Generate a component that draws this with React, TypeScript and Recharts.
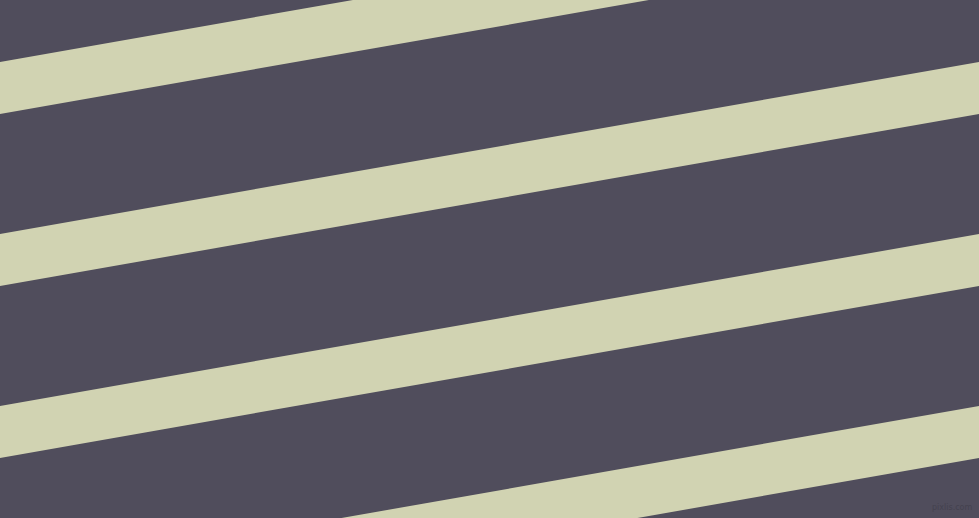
import React from 'react';
import { ComposedChart, Area, XAxis, YAxis } from 'recharts';

// x positions of the two ends of every band
const xEnds = [0, 979];
// band edges (value = distance from the bottom), left end then right end
const stripeLow = [
  [404, 576],
  [232, 404],
  [60, 232],
  [-112, 60],
];
const stripeHigh = [
  [456, 628],
  [284, 456],
  [112, 284],
  [-60, 112],
];
const stripeNames = ['band1', 'band2', 'band3', 'band4'];

const data = xEnds.map((x, i) => {
  const row: Record<string, any> = { x };
  stripeNames.forEach((name, k) => {
    row[name] = [stripeLow[k][i], stripeHigh[k][i]];
  });
  return row;
});

const App = () => {
  return (
    <div style={{ position: 'absolute', left: 0, top: 0, width: 979, height: 518, background: '#504D5C' }}>
      <ComposedChart width={979} height={518} data={data} margin={{ top: 0, right: 0, bottom: 0, left: 0 }}>
        <XAxis dataKey="x" type="number" domain={[0, 979]} hide allowDataOverflow />
        <YAxis type="number" domain={[0, 518]} hide allowDataOverflow />
        {stripeNames.map((name) => (
          <Area
            key={name}
            dataKey={name}
            type="linear"
            stroke="none"
            fill="#D1D3B2"
            fillOpacity={1}
            isAnimationActive={false}
            dot={false}
            activeDot={false}
          />
        ))}
      </ComposedChart>
      <span
        style={{
          position: 'absolute',
          left: 932,
          top: 503,
          fontFamily: 'DejaVu Sans, sans-serif',
          fontSize: 8,
          color: '#44424f',
        }}
      >
        pixlis.com
      </span>
    </div>
  );
};

export default App;
